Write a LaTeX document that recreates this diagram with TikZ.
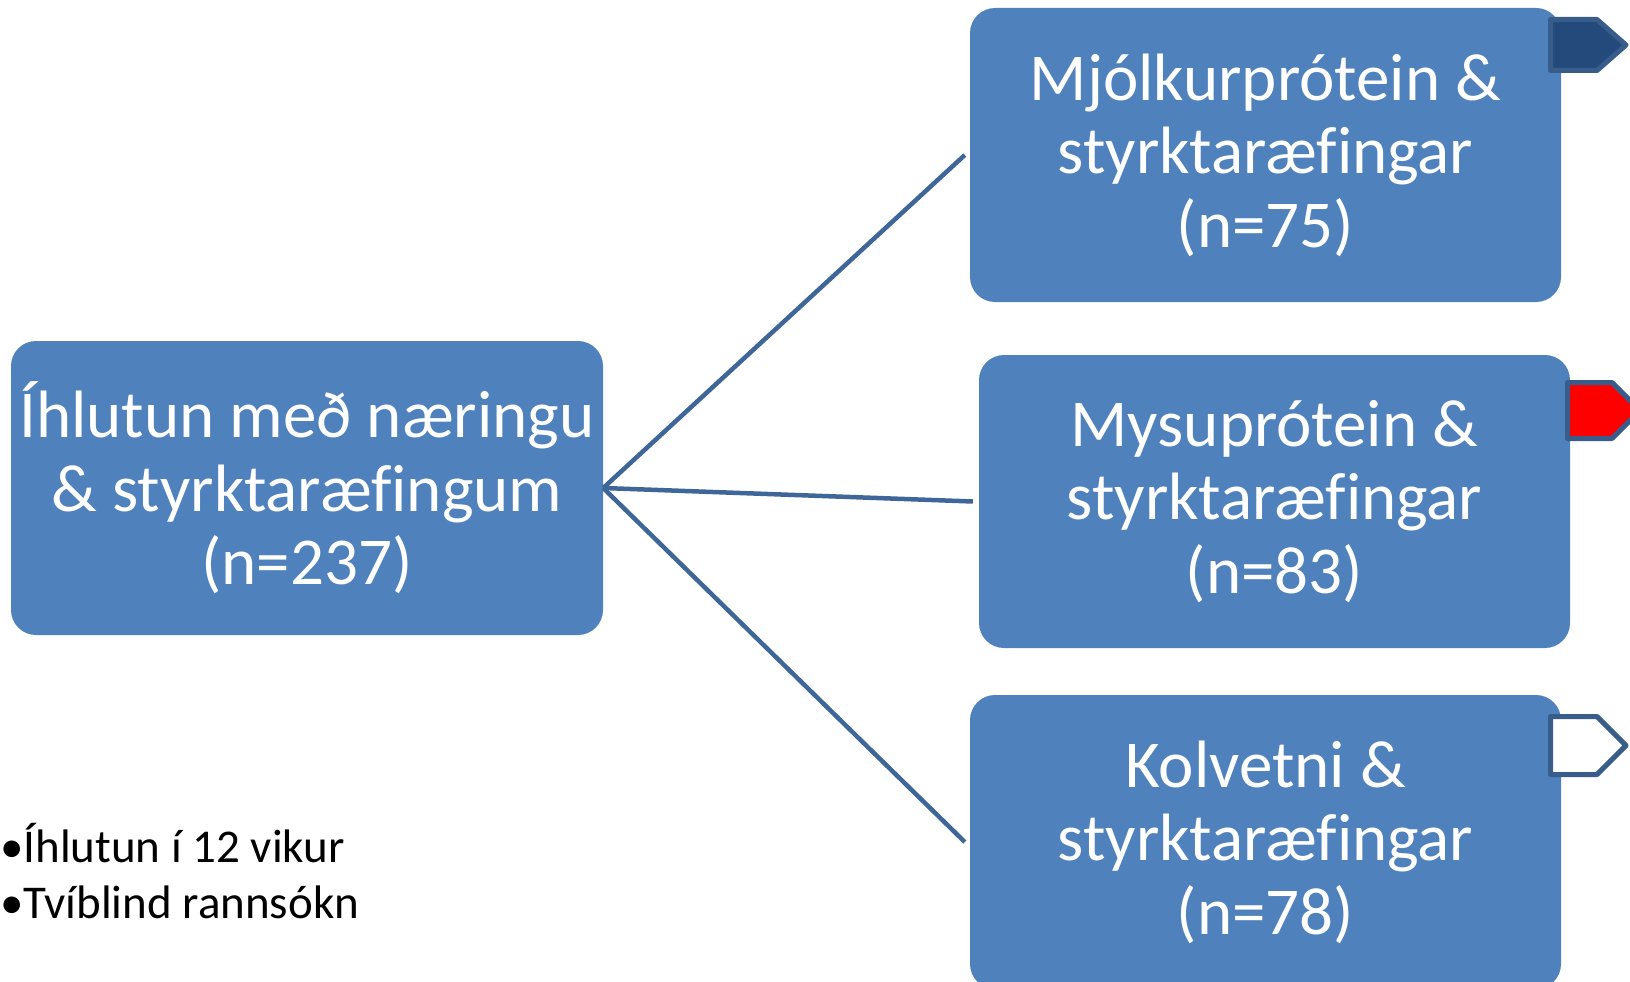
\documentclass[tikz,border=0pt]{standalone}
\usepackage{fontspec}
\setmainfont{Carlito}[Ligatures=NoCommon]
\definecolor{boxblue}{RGB}{79,129,189}
\definecolor{linkblue}{RGB}{62,102,152}
\definecolor{tagedge}{RGB}{56,93,138}
\definecolor{tagdark}{RGB}{36,74,124}
\definecolor{tagred}{RGB}{255,0,0}
\begin{document}
\begin{tikzpicture}[x=1pt,y=-1pt,
  box/.style={fill=boxblue, rounded corners=25pt, text=white, align=center,
    font=\fontsize{67}{73.5}\selectfont, inner sep=0pt},
  conn/.style={draw=linkblue, line width=4.5pt},
  tagshape/.style={draw=tagedge, line width=5pt, line join=round},
  note/.style={anchor=base west, inner sep=0pt, font=\fontsize{47}{56}\selectfont}]
\useasboundingbox (0,0) rectangle (1630,982);
\clip (0,0) rectangle (1630,982);

\node[box, minimum width=592pt, minimum height=294pt] (left) at (307,488)
  {Íhlutun með næringu\\\& styrktaræfingum\\(n=237)};
\node[box, minimum width=591pt, minimum height=294pt] (top) at (1265.5,155)
  {Mjólkurprótein \&\\styrktaræfingar\\(n=75)};
\node[box, minimum width=591pt, minimum height=293pt] (mid) at (1274.5,501.5)
  {Mysuprótein \&\\styrktaræfingar\\(n=83)};
\node[box, minimum width=591pt, minimum height=294pt] (bot) at (1265.5,842)
  {Kolvetni \&\\styrktaræfingar\\(n=78)};

\draw[conn] (left.east) -- ([xshift=-5pt]top.west);
\draw[conn] (left.east) -- ([xshift=-6pt]mid.west);
\draw[conn] (left.east) -- ([xshift=-5pt]bot.west);

% tags
\draw[tagshape, fill=tagdark] (1550.5,19.5) -- (1597,19.5) -- (1626,45) -- (1597,70.5) -- (1550.5,70.5) -- cycle;
\draw[tagshape, fill=tagred] (1567.5,382.5) -- (1612,382.5) -- (1640,410.5) -- (1612,438.5) -- (1567.5,438.5) -- cycle;
\draw[tagshape, fill=white] (1550.5,716.5) -- (1597,716.5) -- (1626,745.5) -- (1597,774.5) -- (1550.5,774.5) -- cycle;

\node[note] (n1) at (0,862) {•Íhlutun í 12 vikur};
\node[note] (n2) at (0,918) {•Tvíblind rannsókn};
\end{tikzpicture}
\end{document}
